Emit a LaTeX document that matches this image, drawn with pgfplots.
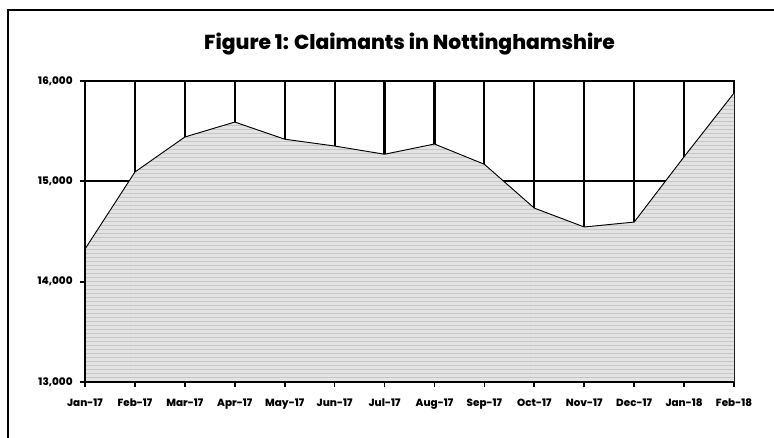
\documentclass[border=0pt]{standalone}
\usepackage{fontspec}
\setmainfont{Poppins}[BoldFont={Poppins ExtraBold}]
\usepackage{pgfplots}
\pgfplotsset{compat=1.18}
\usetikzlibrary{patterns}
\begin{document}
\begin{tikzpicture}[x=0.75pt,y=0.75pt]
\begin{axis}[
  at={(63.75pt,-286.5pt)}, anchor=south west,
  scale only axis, width=486.75pt, height=225.75pt,
  xmin=0, xmax=13, ymin=13000, ymax=16000,
  xtick={0,...,13},
  xticklabels={Jan-17,Feb-17,Mar-17,Apr-17,May-17,Jun-17,Jul-17,Aug-17,Sep-17,Oct-17,Nov-17,Dec-17,Jan-18,Feb-18},
  ytick={13000,14000,15000,16000},
  /pgf/number format/assume math mode=true,
  /pgf/number format/1000 sep={,},
  scaled y ticks=false,
  grid=major,
  major grid style={black, line width=1.6pt},
  axis line style={black, line width=1.6pt},
  tick style={black, line width=1.3pt},
  tick align=outside,
  major tick length=4pt,
  xtick pos=bottom, ytick pos=left,
  ticklabel style={font=\bfseries\fontsize{7.8}{8}\selectfont},
  xticklabel style={yshift=-5pt},
  yticklabel style={xshift=-1.75pt},
]
\addplot[draw=none, fill=gray!22] coordinates {
(0,14325) (1,15093) (2,15442) (3,15591) (4,15420) (5,15352) (6,15270)
(7,15372) (8,15170) (9,14733) (10,14545) (11,14594) (12,15245) (13,15880)
} \closedcycle;
\addplot[draw=none, pattern=horizontal lines, pattern color=gray!45] coordinates {
(0,14325) (1,15093) (2,15442) (3,15591) (4,15420) (5,15352) (6,15270)
(7,15372) (8,15170) (9,14733) (10,14545) (11,14594) (12,15245) (13,15880)
} \closedcycle;
\addplot[black, line width=0.7pt, mark=none] coordinates {
(0,14325) (1,15093) (2,15442) (3,15591) (4,15420) (5,15352) (6,15270)
(7,15372) (8,15170) (9,14733) (10,14545) (11,14594) (12,15245) (13,15880)
};
\draw[black, line width=1.6pt] (axis cs:0,13000) -- (axis cs:13,13000);
\draw[black, line width=1.6pt] (axis cs:0,13000) -- (axis cs:0,14325);
\end{axis}
\node[font=\bfseries\fontsize{15.2}{17}\selectfont] at (409.5,-44) {Figure 1: Claimants in Nottinghamshire};
\draw[black, line width=1.6pt] (8,-10) rectangle (820,-480);
\pgfresetboundingbox
\path[use as bounding box] (0,0) rectangle (774,-438);
\end{tikzpicture}
\end{document}
